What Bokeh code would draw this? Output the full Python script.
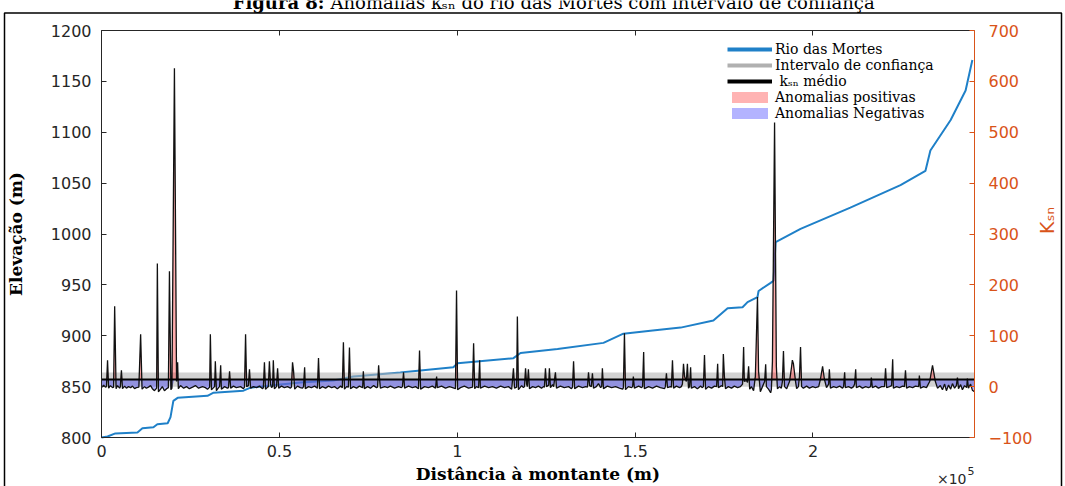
import math
import numpy as np
from bokeh.plotting import figure
from bokeh.models import (Range1d, LinearAxis, SingleIntervalTicker, FixedTicker,
                          CustomJSTickFormatter, Legend, LegendItem)
from bokeh.core.properties import value
from bokeh.embed import file_html
from bokeh.resources import INLINE

# ---------------- data ----------------
# longitudinal profile: distance upstream (km) and elevation (m)
elev_dist_km = [0, 1.7, 3.9, 10.1, 11.5, 14.6, 15.7, 18.6, 19.4, 20.2,
                21.4, 29.8, 31.5, 39.9, 41.9, 47.5, 55.9, 65.2, 70.8, 84.0,
                98.9, 100.1, 115.8, 117.8, 128.2, 141.1, 146.7, 154.3, 162.8, 172.0,
                176.0, 180.2, 181.6, 184.4, 184.7, 188.1, 188.9, 189.5, 196.5, 210.5,
                224.6, 231.6, 233.0, 238.7, 242.9, 244.8]
elevation_m = [800, 801, 804, 805, 809, 810, 813, 814, 820, 836,
               839, 841, 844, 846, 849, 851, 854, 856, 860, 864,
               869, 873, 878, 883, 887, 893, 902, 905, 908, 915,
               927, 928, 933, 938, 944, 952, 954, 992, 1005, 1026,
               1048, 1062, 1082, 1112, 1141, 1171]

# ksn series: (distance km, ksn)
ksn_points = [
    (0.0, -2), (0.6, 3), (1.1, -1), (1.4, 0), (1.7, 52), (2.0, -3), (2.5, 2), (3.1, -2),
    (3.4, -1), (3.7, 158), (4.1, -4), (4.5, 2), (5.1, -3), (5.3, 0), (5.6, 32), (5.9, -4),
    (6.5, 1), (7.0, -3), (7.6, 0), (8.2, -2), (8.7, 1), (9.3, -4), (9.8, -2), (10.5, -1),
    (11.0, 103), (11.4, -5), (12.1, 0), (12.6, -3), (13.2, -1), (13.8, 2), (14.3, -4),
    (14.9, -8), (15.5, -3), (15.7, 242), (16.0, -10), (16.6, -5), (17.1, 0), (17.7, -8),
    (18.3, -4), (18.8, -2), (19.1, 227), (19.5, -6), (19.8, -3), (20.5, 626), (21.1, 10),
    (21.4, 48), (21.6, -4), (22.2, 2), (23.1, -3), (23.9, 0), (24.7, -4), (25.6, -1),
    (26.4, 2), (27.3, -3), (28.4, 0), (29.2, -2), (29.8, -5), (30.4, -1), (30.6, 103),
    (30.9, -6), (31.5, -2), (31.8, 0), (32.0, 50), (32.3, -8), (32.9, -2), (33.2, 0),
    (33.5, 42), (33.7, -5), (34.6, 0), (35.4, -3), (35.7, -2), (36.0, 30), (36.3, -3),
    (37.1, 1), (37.9, -2), (39.1, 0), (39.9, -4), (40.2, -1), (40.5, 103), (40.8, 0),
    (41.3, 2), (41.6, 34), (41.9, -3), (42.7, 0), (43.6, -2), (44.4, 1), (45.3, -4),
    (45.5, -2), (45.8, 48), (46.1, -5), (46.7, -1), (46.9, 0), (47.2, 50), (47.5, 5),
    (47.8, -2), (48.1, 0), (48.3, 52), (48.6, -4), (49.2, 0), (49.5, 36), (49.8, -3),
    (50.6, 1), (51.4, -2), (52.3, 0), (53.1, -3), (53.4, -1), (53.7, 48), (54.0, 30),
    (54.3, -5), (55.1, 1), (55.9, -2), (56.5, -3), (56.8, 0), (57.1, 38), (57.3, -4),
    (58.2, 0), (59.0, -2), (59.9, 1), (60.7, -3), (61.0, 56), (61.3, -4), (62.1, 0),
    (63.0, -3), (63.8, 1), (64.7, -2), (65.5, 0), (66.3, -4), (67.2, 1), (67.7, -2),
    (68.0, 87), (68.3, -5), (68.9, 0), (69.4, -1), (69.7, 77), (70.0, -4), (70.8, 0),
    (71.7, -3), (72.5, 1), (73.4, -2), (73.6, 30), (73.9, -4), (74.8, 0), (75.6, -3),
    (76.5, 2), (77.3, -2), (77.6, -1), (77.9, 42), (78.1, 20), (78.4, -3), (79.6, 0),
    (80.4, -2), (81.2, 1), (82.4, -3), (83.5, 0), (84.3, -2), (84.6, 0), (84.9, 28),
    (85.2, -3), (86.3, 1), (87.4, -2), (88.3, 0), (89.1, -4), (89.4, 71), (89.7, -5),
    (90.8, 0), (91.9, -2), (93.0, 1), (93.9, -3), (94.2, 20), (94.4, -2), (95.6, 1),
    (96.7, -3), (97.8, 0), (98.7, -2), (99.5, -4), (99.8, 189), (100.1, -6), (100.9, -2),
    (102.0, 1), (103.2, -3), (104.3, -1), (104.6, 85), (104.9, -4), (105.4, 0), (106.0, -2),
    (106.3, 52), (106.5, -3), (107.7, 1), (108.8, -2), (109.9, 0), (111.0, -3), (112.2, 1),
    (113.3, -2), (114.4, 0), (115.3, -5), (115.5, 10), (115.8, 36), (116.1, -3), (116.7, -1),
    (116.9, 138), (117.2, -6), (118.1, 2), (118.6, -2), (118.9, 0), (119.2, 36), (119.5, 5),
    (119.7, 0), (120.0, 34), (120.3, -4), (121.2, 0), (122.0, -2), (122.8, 1), (123.7, -3),
    (124.2, 0), (124.5, -1), (124.8, 36), (125.1, 0), (125.7, 3), (125.9, 36), (126.2, -2),
    (126.8, 4), (127.1, 0), (127.6, 28), (127.9, -3), (129.0, 1), (130.1, -2), (131.3, 0),
    (132.1, -4), (132.4, -1), (132.7, 50), (133.0, -4), (134.1, 1), (135.2, -2), (136.1, 0),
    (136.6, -1), (136.9, 28), (137.2, 2), (137.7, 0), (138.0, 26), (138.3, -3), (139.1, 0),
    (139.7, 6), (140.3, -2), (140.6, 0), (140.8, 36), (141.1, -4), (142.2, 1), (143.4, -2),
    (144.5, 0), (145.6, -3), (146.5, -5), (146.7, -2), (147.0, 105), (147.3, -6), (148.1, 0),
    (149.0, -2), (149.3, 0), (149.5, 20), (149.8, -3), (151.0, 1), (151.8, -2), (152.1, 0),
    (152.4, 68), (152.6, -4), (153.8, 0), (154.9, -3), (156.0, 1), (157.1, -2), (158.3, -4),
    (158.5, 0), (158.8, 26), (159.1, -2), (159.9, 0), (160.2, -1), (160.5, 52), (160.8, -3),
    (161.6, 1), (162.5, -2), (163.0, 0), (163.3, 5), (163.6, 45), (163.9, 20), (164.4, 10),
    (164.7, 45), (165.0, -3), (165.3, 0), (165.6, 38), (165.8, -3), (166.7, 0), (167.5, -4),
    (168.4, 1), (168.9, -2), (169.2, 0), (169.5, 62), (169.8, -5), (170.6, 0), (171.5, -3),
    (172.3, 1), (172.9, 0), (173.2, 45), (173.4, -2), (174.3, 2), (174.6, 0), (174.8, 64),
    (175.1, 20), (175.4, -4), (176.2, 0), (177.1, -3), (177.9, 1), (178.8, -2), (179.6, 0),
    (180.2, 5), (180.5, 78), (180.7, 10), (181.3, 12), (181.6, 8), (181.9, 40), (182.2, -5),
    (182.7, 0), (183.3, -8), (183.8, 20), (184.1, 100), (184.4, 176), (184.7, 30),
    (185.2, -10), (185.8, 0), (186.4, 10), (186.7, 44), (186.9, 0), (187.5, -5),
    (188.1, -12), (188.3, -6), (188.6, 50), (189.2, 519), (189.7, 40), (190.0, -4),
    (190.6, 0), (191.1, -3), (191.4, 10), (191.7, 70), (192.0, 0), (192.6, -4), (193.4, 10),
    (194.0, 40), (194.2, 52), (194.5, 45), (195.1, 10), (195.4, -4), (195.9, 0), (196.2, 20),
    (196.5, 78), (196.8, 0), (197.3, -3), (198.2, 1), (199.0, -3), (199.9, 0), (200.7, -2),
    (201.6, 0), (202.1, 15), (202.7, 40), (203.2, 15), (203.8, -2), (204.4, 5), (204.6, 34),
    (204.9, -3), (205.8, 0), (206.6, -2), (207.5, 1), (208.3, -3), (208.6, 0), (208.9, 28),
    (209.1, -2), (210.0, 0), (210.8, -3), (211.4, 0), (211.7, 5), (212.0, 34), (212.2, -2),
    (213.1, 1), (213.9, -3), (214.8, 0), (215.6, -2), (216.2, 0), (216.4, 18), (216.7, -2),
    (217.6, 1), (218.4, -3), (219.3, 0), (220.1, 0), (220.4, 36), (220.7, -2), (221.5, 0),
    (222.1, 2), (222.4, 54), (222.6, -3), (223.5, 0), (224.3, -2), (225.2, 1), (225.7, 0),
    (226.0, 32), (226.3, -3), (227.1, 0), (228.0, -2), (228.8, 1), (229.7, 0), (229.9, 22),
    (230.2, -3), (231.1, 0), (231.9, -2), (232.8, 10), (233.6, 42), (234.4, 10), (235.0, -3),
    (235.8, 2), (236.4, -6), (237.0, 5), (237.5, -8), (238.1, 3), (238.7, -5), (239.2, 6),
    (239.8, -3), (240.3, 2), (240.6, 18), (240.9, -4), (241.5, 4), (242.0, -6), (242.6, 2),
    (243.2, -2), (243.4, 16), (243.7, -3), (244.3, 5), (244.8, -7), (245.4, -10),
]
ksn_mean = 14            # mean ksn
ci_low, ci_high = 0, 28  # confidence interval

x_ticks_km = [0, 50, 100, 150, 200]
legend_labels = ["Rio das Mortes", "Intervalo de confiança", " kₛₙ médio",
                 "Anomalias positivas", "Anomalias Negativas"]
title_bold = "Figura 8:"
title_rest = "Anomalias kₛₙ do rio das Mortes com intervalo de confiança"
x_label = "Distância à montante (m)"
y_label = "Elevação (m)"
y2_label = "Kₛₙ"

# ---------------- layout geometry ----------------
BLUE = "#1f80c8"
ORANGE = "#D95319"
DARK = "#262626"
W, H = 1065, 486
FL, FR, FT, FB = 101, 974, 30, 437        # plot box edges in canvas pixels
X0, X1 = 0.0, 245.4                        # x extent (km)
Y0, Y1 = 800.0, 1200.0                     # elevation extent
K0, K1 = -100.0, 700.0                     # ksn extent

kx = (FR - FL) / (X1 - X0)
ky = (FB - FT) / (Y1 - Y0)
kk = (FB - FT) / (K1 - K0)
x_range = Range1d(X0 - FL / kx, X1 + (W - FR) / kx)
y_range = Range1d(Y0 - (H - FB) / ky, Y1 + FT / ky)
k_range = Range1d(K0 - (H - FB) / kk, K1 + FT / kk)


def cx(px):
    return X0 + (px - FL) / kx


def cy(py):
    return Y1 - (py - FT) / ky


ksn_x = np.array([d for d, _ in ksn_points])
ksn_y = np.array([k for _, k in ksn_points], dtype=float)
mean_arr = np.full_like(ksn_y, ksn_mean)

p = figure(width=W, height=H, output_backend="svg", toolbar_location=None,
           x_range=x_range, y_range=y_range,
           min_border_left=0, min_border_right=0, min_border_top=0, min_border_bottom=0,
           x_axis_location=None, y_axis_location=None)
p.extra_y_ranges = {"ksn": k_range}
p.grid.visible = False
p.outline_line_color = None
p.background_fill_color = "white"
p.border_fill_color = "white"


def style_axis(ax, color, size="16px"):
    ax.axis_line_color = color
    ax.axis_line_width = 1
    ax.major_tick_line_color = color
    ax.minor_tick_line_color = None
    ax.major_tick_in = 5
    ax.major_tick_out = 0
    ax.major_label_text_color = color
    ax.major_label_text_font = "DejaVu Sans"
    ax.major_label_text_font_size = size
    ax.axis_label_text_font = "DejaVu Serif"
    ax.axis_label_text_font_style = "bold"
    ax.axis_label_text_font_size = "17px"
    ax.axis_label_text_color = "black"


xaxis = LinearAxis(ticker=FixedTicker(ticks=x_ticks_km), fixed_location=Y0,
                   bounds=(X0, X1), axis_label=x_label,
                   formatter=CustomJSTickFormatter(code="return String(tick/100);"))
style_axis(xaxis, DARK)
xaxis.major_label_standoff = 7
xaxis.axis_label_standoff = 4
p.add_layout(xaxis, "below")

top_axis = LinearAxis(ticker=FixedTicker(ticks=x_ticks_km), fixed_location=Y1,
                      bounds=(X0, X1),
                      formatter=CustomJSTickFormatter(code="return '';"))
style_axis(top_axis, DARK)
p.add_layout(top_axis, "above")

yaxis = LinearAxis(ticker=SingleIntervalTicker(interval=50), fixed_location=X0,
                   bounds=(Y0, Y1), axis_label=y_label)
style_axis(yaxis, DARK)
yaxis.major_label_standoff = 6
yaxis.axis_label_standoff = 22
p.add_layout(yaxis, "left")

raxis = LinearAxis(y_range_name="ksn", ticker=SingleIntervalTicker(interval=100),
                   fixed_location=X1, bounds=(K0, K1), axis_label=y2_label)
style_axis(raxis, ORANGE)
raxis.axis_label_text_font = "DejaVu Sans"
raxis.axis_label_text_font_style = "normal"
raxis.axis_label_text_color = ORANGE
raxis.axis_label_text_font_size = "19px"
raxis.major_label_standoff = 10
raxis.axis_label_standoff = 12
raxis.axis_label_orientation = math.pi / 2
p.add_layout(raxis, "right")

# ---------------- data glyphs ----------------
p.line(elev_dist_km, elevation_m, line_color=BLUE, line_width=2)
p.varea(x=[X0, X1], y1=[ci_low, ci_low], y2=[ci_high, ci_high],
        fill_color="#b4b4b4", fill_alpha=0.6, y_range_name="ksn")
p.varea(x=ksn_x, y1=mean_arr, y2=np.maximum(ksn_y, mean_arr),
        fill_color="red", fill_alpha=0.32, y_range_name="ksn")
p.varea(x=ksn_x, y1=np.minimum(ksn_y, mean_arr), y2=mean_arr,
        fill_color="blue", fill_alpha=0.3, y_range_name="ksn")
p.line(ksn_x, ksn_y, line_color="#111111", line_width=1.3, y_range_name="ksn")
p.line([X0, X1], [ksn_mean, ksn_mean], line_color="black", line_width=2,
       y_range_name="ksn")

# legend proxies (outside the visible ranges)
far = x_range.start - 50
lg_blue = p.line(x=[far, far + 1], y=[0, 0], line_color=BLUE, line_width=4)
lg_gray = p.line(x=[far, far + 1], y=[0, 0], line_color="#b0b0b0", line_width=4)
lg_black = p.line(x=[far, far + 1], y=[0, 0], line_color="black", line_width=4)
lg_pos = p.quad(left=[far], right=[far + 1], top=[0], bottom=[-1],
                fill_color="#ffb3b3", line_color=None)
lg_neg = p.quad(left=[far], right=[far + 1], top=[0], bottom=[-1],
                fill_color="#b3b3ff", line_color=None)

legend = Legend(items=[LegendItem(label=l, renderers=[r]) for l, r in
                       zip(legend_labels, [lg_blue, lg_gray, lg_black, lg_pos, lg_neg])],
                location=(727, H - 121))
legend.label_text_font = "DejaVu Serif"
legend.label_text_font_size = "14px"
legend.label_text_color = "black"
legend.glyph_width = 45
legend.glyph_height = 14
legend.label_height = 14
legend.spacing = 0
legend.padding = 3
legend.margin = 0
legend.label_standoff = 3
legend.border_line_color = None
legend.background_fill_color = "white"
legend.background_fill_alpha = 1.0
p.add_layout(legend)

# ---------------- decorations: cut-off title, exponent, outer frame ----------------
p.text(x=[cx(324)], y=[cy(2)], text=[title_bold], text_font=value("DejaVu Serif"),
       text_font_style="bold", text_font_size="18px", text_align="right",
       text_baseline="alphabetic", text_color="black")
p.text(x=[cx(330)], y=[cy(2)], text=[title_rest], text_font=value("DejaVu Serif"),
       text_font_size="18px", text_align="left", text_baseline="alphabetic",
       text_color="black")
p.text(x=[cx(966)], y=[cy(478)], text=["×10"], text_font=value("DejaVu Sans"),
       text_font_size="14px", text_align="right", text_baseline="alphabetic",
       text_color=DARK)
p.text(x=[cx(967)], y=[cy(470)], text=["5"], text_font=value("DejaVu Sans"),
       text_font_size="11px", text_align="left", text_baseline="alphabetic",
       text_color=DARK)
p.line(x=[cx(4), cx(4), cx(1061), cx(1061)], y=[cy(495), cy(12.5), cy(12.5), cy(495)],
       line_color="black", line_width=1.5)

open("out.html", "w").write(file_html(p, INLINE))
